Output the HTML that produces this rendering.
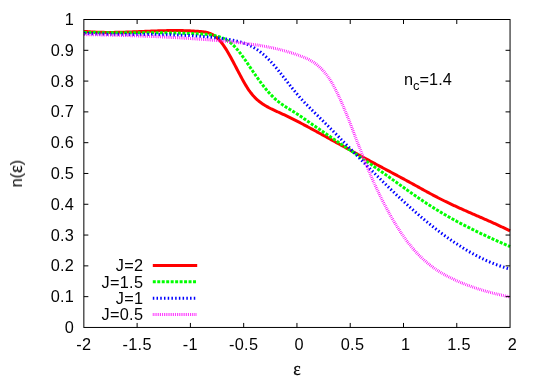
<!DOCTYPE html>
<html><head><meta charset="utf-8"><title>n(eps)</title>
<style>html,body{margin:0;padding:0;background:#fff;}svg{display:block;}text{font-family:"Liberation Sans",sans-serif;font-size:16.3px;fill:#000;letter-spacing:0.3px;}.sym{font-family:"Liberation Serif",serif;font-size:17.8px;letter-spacing:0;stroke:#000;stroke-width:0.3px;}</style></head><body>
<svg width="538" height="377" viewBox="0 0 538 377">
<rect x="0" y="0" width="538" height="377" fill="#fff"/>
<path d="M84.00,31.37 L85.00,31.46 L86.00,31.54 L87.00,31.62 L88.00,31.70 L89.00,31.77 L90.00,31.83 L91.00,31.90 L92.00,31.96 L93.00,32.01 L94.00,32.06 L95.00,32.11 L96.00,32.15 L97.00,32.19 L98.00,32.22 L99.00,32.26 L100.00,32.29 L101.00,32.31 L102.00,32.33 L103.00,32.35 L104.00,32.37 L105.00,32.38 L106.00,32.39 L107.00,32.40 L108.00,32.41 L109.00,32.41 L110.00,32.41 L111.00,32.40 L112.00,32.40 L113.00,32.39 L114.00,32.38 L115.00,32.37 L116.00,32.35 L117.00,32.34 L118.00,32.32 L119.00,32.30 L120.00,32.28 L121.00,32.25 L122.00,32.23 L123.00,32.20 L124.00,32.17 L125.00,32.14 L126.00,32.11 L127.00,32.08 L128.00,32.05 L129.00,32.01 L130.00,31.97 L131.00,31.94 L132.00,31.90 L133.00,31.86 L134.00,31.82 L135.00,31.78 L136.00,31.74 L137.00,31.70 L138.00,31.66 L139.00,31.62 L140.00,31.58 L141.00,31.53 L142.00,31.49 L143.00,31.45 L144.00,31.41 L145.00,31.36 L146.00,31.32 L147.00,31.28 L148.00,31.24 L149.00,31.20 L150.00,31.16 L151.00,31.12 L152.00,31.08 L153.00,31.04 L154.00,31.00 L155.00,30.97 L156.00,30.93 L157.00,30.89 L158.00,30.86 L159.00,30.83 L160.00,30.80 L161.00,30.77 L162.00,30.74 L163.00,30.71 L164.00,30.69 L165.00,30.67 L166.00,30.64 L167.00,30.62 L168.00,30.61 L169.00,30.59 L170.00,30.58 L171.00,30.56 L172.00,30.55 L173.00,30.55 L174.00,30.54 L175.00,30.54 L176.00,30.54 L177.00,30.54 L178.00,30.55 L179.00,30.56 L180.00,30.57 L181.00,30.58 L182.00,30.60 L183.00,30.62 L184.00,30.64 L185.00,30.67 L186.00,30.70 L187.00,30.73 L188.00,30.77 L189.00,30.81 L190.00,30.85 L191.00,30.90 L192.00,30.95 L193.00,31.01 L194.00,31.07 L195.00,31.13 L196.00,31.20 L197.00,31.27 L198.00,31.34 L199.00,31.42 L200.00,31.51 L201.00,31.60 L202.00,31.69 L203.00,31.81 L204.00,31.94 L205.00,32.10 L206.00,32.28 L207.00,32.51 L208.00,32.77 L209.00,33.07 L210.00,33.42 L211.00,33.83 L212.00,34.30 L213.00,34.83 L214.00,35.43 L215.00,36.11 L216.00,36.86 L217.00,37.70 L218.00,38.62 L219.00,39.65 L220.00,40.76 L221.00,41.97 L222.00,43.26 L223.00,44.63 L224.00,46.08 L225.00,47.59 L226.00,49.17 L227.00,50.81 L228.00,52.50 L229.00,54.24 L230.00,56.02 L231.00,57.84 L232.00,59.69 L233.00,61.56 L234.00,63.46 L235.00,65.36 L236.00,67.28 L237.00,69.20 L238.00,71.12 L239.00,73.03 L240.00,74.92 L241.00,76.79 L242.00,78.64 L243.00,80.46 L244.00,82.23 L245.00,83.96 L246.00,85.64 L247.00,87.26 L248.00,88.82 L249.00,90.30 L250.00,91.71 L251.00,93.04 L252.00,94.29 L253.00,95.47 L254.00,96.58 L255.00,97.62 L256.00,98.61 L257.00,99.53 L258.00,100.41 L259.00,101.23 L260.00,102.02 L261.00,102.76 L262.00,103.47 L263.00,104.15 L264.00,104.80 L265.00,105.42 L266.00,106.02 L267.00,106.60 L268.00,107.16 L269.00,107.70 L270.00,108.22 L271.00,108.73 L272.00,109.22 L273.00,109.70 L274.00,110.17 L275.00,110.64 L276.00,111.09 L277.00,111.55 L278.00,112.00 L279.00,112.45 L280.00,112.90 L281.00,113.35 L282.00,113.81 L283.00,114.27 L284.00,114.73 L285.00,115.20 L286.00,115.68 L287.00,116.16 L288.00,116.64 L289.00,117.13 L290.00,117.62 L291.00,118.11 L292.00,118.61 L293.00,119.11 L294.00,119.61 L295.00,120.12 L296.00,120.63 L297.00,121.15 L298.00,121.66 L299.00,122.18 L300.00,122.70 L301.00,123.23 L302.00,123.75 L303.00,124.28 L304.00,124.81 L305.00,125.35 L306.00,125.88 L307.00,126.42 L308.00,126.96 L309.00,127.50 L310.00,128.04 L311.00,128.58 L312.00,129.12 L313.00,129.67 L314.00,130.22 L315.00,130.76 L316.00,131.31 L317.00,131.86 L318.00,132.41 L319.00,132.96 L320.00,133.51 L321.00,134.06 L322.00,134.61 L323.00,135.16 L324.00,135.71 L325.00,136.26 L326.00,136.81 L327.00,137.36 L328.00,137.92 L329.00,138.47 L330.00,139.02 L331.00,139.57 L332.00,140.12 L333.00,140.67 L334.00,141.23 L335.00,141.78 L336.00,142.33 L337.00,142.88 L338.00,143.43 L339.00,143.99 L340.00,144.54 L341.00,145.09 L342.00,145.64 L343.00,146.19 L344.00,146.74 L345.00,147.30 L346.00,147.85 L347.00,148.40 L348.00,148.95 L349.00,149.50 L350.00,150.05 L351.00,150.60 L352.00,151.15 L353.00,151.70 L354.00,152.25 L355.00,152.80 L356.00,153.34 L357.00,153.89 L358.00,154.44 L359.00,154.99 L360.00,155.54 L361.00,156.08 L362.00,156.63 L363.00,157.17 L364.00,157.72 L365.00,158.26 L366.00,158.81 L367.00,159.35 L368.00,159.90 L369.00,160.44 L370.00,160.98 L371.00,161.52 L372.00,162.07 L373.00,162.61 L374.00,163.15 L375.00,163.69 L376.00,164.22 L377.00,164.76 L378.00,165.30 L379.00,165.84 L380.00,166.37 L381.00,166.91 L382.00,167.44 L383.00,167.98 L384.00,168.51 L385.00,169.04 L386.00,169.58 L387.00,170.11 L388.00,170.64 L389.00,171.17 L390.00,171.70 L391.00,172.24 L392.00,172.77 L393.00,173.30 L394.00,173.83 L395.00,174.37 L396.00,174.90 L397.00,175.43 L398.00,175.97 L399.00,176.50 L400.00,177.04 L401.00,177.58 L402.00,178.11 L403.00,178.65 L404.00,179.19 L405.00,179.73 L406.00,180.27 L407.00,180.82 L408.00,181.36 L409.00,181.91 L410.00,182.45 L411.00,183.00 L412.00,183.55 L413.00,184.10 L414.00,184.65 L415.00,185.21 L416.00,185.76 L417.00,186.31 L418.00,186.87 L419.00,187.42 L420.00,187.98 L421.00,188.53 L422.00,189.08 L423.00,189.63 L424.00,190.19 L425.00,190.74 L426.00,191.29 L427.00,191.83 L428.00,192.38 L429.00,192.92 L430.00,193.47 L431.00,194.01 L432.00,194.54 L433.00,195.08 L434.00,195.61 L435.00,196.14 L436.00,196.67 L437.00,197.19 L438.00,197.71 L439.00,198.22 L440.00,198.74 L441.00,199.24 L442.00,199.75 L443.00,200.25 L444.00,200.74 L445.00,201.24 L446.00,201.72 L447.00,202.21 L448.00,202.69 L449.00,203.17 L450.00,203.65 L451.00,204.12 L452.00,204.59 L453.00,205.06 L454.00,205.52 L455.00,205.98 L456.00,206.44 L457.00,206.90 L458.00,207.36 L459.00,207.81 L460.00,208.26 L461.00,208.71 L462.00,209.16 L463.00,209.61 L464.00,210.05 L465.00,210.50 L466.00,210.94 L467.00,211.38 L468.00,211.82 L469.00,212.26 L470.00,212.70 L471.00,213.14 L472.00,213.57 L473.00,214.01 L474.00,214.45 L475.00,214.88 L476.00,215.32 L477.00,215.76 L478.00,216.19 L479.00,216.63 L480.00,217.07 L481.00,217.50 L482.00,217.94 L483.00,218.38 L484.00,218.82 L485.00,219.26 L486.00,219.70 L487.00,220.15 L488.00,220.59 L489.00,221.04 L490.00,221.48 L491.00,221.93 L492.00,222.38 L493.00,222.83 L494.00,223.29 L495.00,223.74 L496.00,224.20 L497.00,224.66 L498.00,225.13 L499.00,225.59 L500.00,226.06 L501.00,226.53 L502.00,227.01 L503.00,227.48 L504.00,227.96 L505.00,228.45 L506.00,228.93 L507.00,229.42 L508.00,229.92 L509.00,230.41 L510.00,230.91" fill="none" stroke="#ff0000" stroke-width="3.0" stroke-linejoin="round"/>
<path d="M84.00,32.48 L85.00,32.50 L86.00,32.51 L87.00,32.52 L88.00,32.54 L89.00,32.55 L90.00,32.56 L91.00,32.57 L92.00,32.58 L93.00,32.59 L94.00,32.59 L95.00,32.60 L96.00,32.61 L97.00,32.61 L98.00,32.62 L99.00,32.63 L100.00,32.63 L101.00,32.63 L102.00,32.64 L103.00,32.64 L104.00,32.65 L105.00,32.65 L106.00,32.65 L107.00,32.65 L108.00,32.65 L109.00,32.66 L110.00,32.66 L111.00,32.66 L112.00,32.66 L113.00,32.66 L114.00,32.66 L115.00,32.66 L116.00,32.66 L117.00,32.66 L118.00,32.66 L119.00,32.66 L120.00,32.66 L121.00,32.66 L122.00,32.65 L123.00,32.65 L124.00,32.65 L125.00,32.65 L126.00,32.65 L127.00,32.65 L128.00,32.65 L129.00,32.65 L130.00,32.65 L131.00,32.65 L132.00,32.65 L133.00,32.65 L134.00,32.65 L135.00,32.65 L136.00,32.65 L137.00,32.65 L138.00,32.65 L139.00,32.65 L140.00,32.65 L141.00,32.65 L142.00,32.65 L143.00,32.66 L144.00,32.66 L145.00,32.66 L146.00,32.66 L147.00,32.67 L148.00,32.67 L149.00,32.68 L150.00,32.68 L151.00,32.69 L152.00,32.69 L153.00,32.70 L154.00,32.71 L155.00,32.71 L156.00,32.72 L157.00,32.73 L158.00,32.74 L159.00,32.75 L160.00,32.76 L161.00,32.77 L162.00,32.79 L163.00,32.80 L164.00,32.81 L165.00,32.83 L166.00,32.84 L167.00,32.86 L168.00,32.87 L169.00,32.89 L170.00,32.91 L171.00,32.93 L172.00,32.95 L173.00,32.97 L174.00,32.99 L175.00,33.02 L176.00,33.04 L177.00,33.06 L178.00,33.09 L179.00,33.12 L180.00,33.15 L181.00,33.17 L182.00,33.20 L183.00,33.24 L184.00,33.27 L185.00,33.30 L186.00,33.34 L187.00,33.37 L188.00,33.41 L189.00,33.45 L190.00,33.49 L191.00,33.53 L192.00,33.57 L193.00,33.61 L194.00,33.66 L195.00,33.70 L196.00,33.75 L197.00,33.80 L198.00,33.85 L199.00,33.90 L200.00,33.95 L201.00,34.01 L202.00,34.06 L203.00,34.13 L204.00,34.19 L205.00,34.26 L206.00,34.35 L207.00,34.44 L208.00,34.54 L209.00,34.65 L210.00,34.78 L211.00,34.92 L212.00,35.07 L213.00,35.25 L214.00,35.44 L215.00,35.65 L216.00,35.88 L217.00,36.13 L218.00,36.41 L219.00,36.72 L220.00,37.04 L221.00,37.40 L222.00,37.79 L223.00,38.20 L224.00,38.66 L225.00,39.15 L226.00,39.69 L227.00,40.27 L228.00,40.90 L229.00,41.59 L230.00,42.33 L231.00,43.13 L232.00,43.99 L233.00,44.92 L234.00,45.90 L235.00,46.95 L236.00,48.05 L237.00,49.19 L238.00,50.39 L239.00,51.63 L240.00,52.91 L241.00,54.22 L242.00,55.57 L243.00,56.94 L244.00,58.34 L245.00,59.76 L246.00,61.21 L247.00,62.66 L248.00,64.13 L249.00,65.61 L250.00,67.09 L251.00,68.57 L252.00,70.05 L253.00,71.52 L254.00,72.99 L255.00,74.44 L256.00,75.87 L257.00,77.30 L258.00,78.70 L259.00,80.09 L260.00,81.45 L261.00,82.80 L262.00,84.13 L263.00,85.43 L264.00,86.71 L265.00,87.96 L266.00,89.19 L267.00,90.38 L268.00,91.55 L269.00,92.69 L270.00,93.80 L271.00,94.87 L272.00,95.91 L273.00,96.92 L274.00,97.89 L275.00,98.82 L276.00,99.71 L277.00,100.56 L278.00,101.39 L279.00,102.18 L280.00,102.94 L281.00,103.68 L282.00,104.39 L283.00,105.08 L284.00,105.75 L285.00,106.41 L286.00,107.05 L287.00,107.68 L288.00,108.30 L289.00,108.92 L290.00,109.53 L291.00,110.14 L292.00,110.75 L293.00,111.37 L294.00,111.99 L295.00,112.62 L296.00,113.26 L297.00,113.91 L298.00,114.57 L299.00,115.23 L300.00,115.91 L301.00,116.59 L302.00,117.28 L303.00,117.97 L304.00,118.66 L305.00,119.35 L306.00,120.05 L307.00,120.75 L308.00,121.44 L309.00,122.14 L310.00,122.84 L311.00,123.53 L312.00,124.22 L313.00,124.91 L314.00,125.61 L315.00,126.30 L316.00,126.98 L317.00,127.67 L318.00,128.36 L319.00,129.05 L320.00,129.73 L321.00,130.42 L322.00,131.10 L323.00,131.79 L324.00,132.47 L325.00,133.15 L326.00,133.84 L327.00,134.52 L328.00,135.20 L329.00,135.88 L330.00,136.56 L331.00,137.23 L332.00,137.91 L333.00,138.59 L334.00,139.27 L335.00,139.94 L336.00,140.62 L337.00,141.30 L338.00,141.97 L339.00,142.65 L340.00,143.32 L341.00,144.00 L342.00,144.67 L343.00,145.35 L344.00,146.02 L345.00,146.70 L346.00,147.37 L347.00,148.05 L348.00,148.73 L349.00,149.40 L350.00,150.08 L351.00,150.75 L352.00,151.43 L353.00,152.11 L354.00,152.78 L355.00,153.46 L356.00,154.14 L357.00,154.82 L358.00,155.49 L359.00,156.17 L360.00,156.85 L361.00,157.53 L362.00,158.22 L363.00,158.90 L364.00,159.58 L365.00,160.27 L366.00,160.95 L367.00,161.64 L368.00,162.32 L369.00,163.01 L370.00,163.70 L371.00,164.39 L372.00,165.08 L373.00,165.77 L374.00,166.47 L375.00,167.16 L376.00,167.86 L377.00,168.55 L378.00,169.25 L379.00,169.95 L380.00,170.66 L381.00,171.36 L382.00,172.06 L383.00,172.77 L384.00,173.48 L385.00,174.19 L386.00,174.90 L387.00,175.61 L388.00,176.32 L389.00,177.04 L390.00,177.75 L391.00,178.47 L392.00,179.19 L393.00,179.90 L394.00,180.62 L395.00,181.34 L396.00,182.06 L397.00,182.78 L398.00,183.50 L399.00,184.21 L400.00,184.93 L401.00,185.65 L402.00,186.36 L403.00,187.08 L404.00,187.79 L405.00,188.51 L406.00,189.22 L407.00,189.93 L408.00,190.64 L409.00,191.35 L410.00,192.05 L411.00,192.76 L412.00,193.46 L413.00,194.16 L414.00,194.86 L415.00,195.55 L416.00,196.24 L417.00,196.93 L418.00,197.62 L419.00,198.30 L420.00,198.98 L421.00,199.66 L422.00,200.34 L423.00,201.01 L424.00,201.67 L425.00,202.34 L426.00,203.00 L427.00,203.65 L428.00,204.30 L429.00,204.95 L430.00,205.59 L431.00,206.23 L432.00,206.87 L433.00,207.50 L434.00,208.12 L435.00,208.74 L436.00,209.36 L437.00,209.97 L438.00,210.58 L439.00,211.19 L440.00,211.79 L441.00,212.39 L442.00,212.98 L443.00,213.57 L444.00,214.16 L445.00,214.74 L446.00,215.32 L447.00,215.89 L448.00,216.46 L449.00,217.03 L450.00,217.60 L451.00,218.16 L452.00,218.72 L453.00,219.27 L454.00,219.82 L455.00,220.37 L456.00,220.91 L457.00,221.45 L458.00,221.99 L459.00,222.52 L460.00,223.05 L461.00,223.58 L462.00,224.11 L463.00,224.63 L464.00,225.15 L465.00,225.66 L466.00,226.18 L467.00,226.69 L468.00,227.20 L469.00,227.70 L470.00,228.20 L471.00,228.70 L472.00,229.20 L473.00,229.69 L474.00,230.19 L475.00,230.68 L476.00,231.16 L477.00,231.65 L478.00,232.13 L479.00,232.61 L480.00,233.09 L481.00,233.56 L482.00,234.03 L483.00,234.50 L484.00,234.97 L485.00,235.44 L486.00,235.90 L487.00,236.37 L488.00,236.83 L489.00,237.29 L490.00,237.74 L491.00,238.20 L492.00,238.65 L493.00,239.10 L494.00,239.55 L495.00,240.00 L496.00,240.44 L497.00,240.89 L498.00,241.33 L499.00,241.77 L500.00,242.21 L501.00,242.65 L502.00,243.09 L503.00,243.52 L504.00,243.96 L505.00,244.39 L506.00,244.82 L507.00,245.25 L508.00,245.68 L509.00,246.11 L510.00,246.54" fill="none" stroke="#00ff00" stroke-width="3.0" stroke-linejoin="round" stroke-dasharray="2.980 1.490"/>
<path d="M84.00,33.39 L85.00,33.44 L86.00,33.49 L87.00,33.54 L88.00,33.58 L89.00,33.62 L90.00,33.66 L91.00,33.70 L92.00,33.74 L93.00,33.78 L94.00,33.81 L95.00,33.85 L96.00,33.88 L97.00,33.91 L98.00,33.94 L99.00,33.97 L100.00,34.00 L101.00,34.02 L102.00,34.05 L103.00,34.07 L104.00,34.09 L105.00,34.12 L106.00,34.14 L107.00,34.16 L108.00,34.17 L109.00,34.19 L110.00,34.21 L111.00,34.22 L112.00,34.24 L113.00,34.25 L114.00,34.27 L115.00,34.28 L116.00,34.29 L117.00,34.30 L118.00,34.31 L119.00,34.32 L120.00,34.33 L121.00,34.34 L122.00,34.35 L123.00,34.36 L124.00,34.37 L125.00,34.37 L126.00,34.38 L127.00,34.39 L128.00,34.39 L129.00,34.40 L130.00,34.40 L131.00,34.41 L132.00,34.41 L133.00,34.42 L134.00,34.42 L135.00,34.43 L136.00,34.43 L137.00,34.44 L138.00,34.44 L139.00,34.45 L140.00,34.45 L141.00,34.46 L142.00,34.47 L143.00,34.47 L144.00,34.48 L145.00,34.48 L146.00,34.49 L147.00,34.50 L148.00,34.50 L149.00,34.51 L150.00,34.52 L151.00,34.53 L152.00,34.54 L153.00,34.55 L154.00,34.56 L155.00,34.57 L156.00,34.58 L157.00,34.59 L158.00,34.61 L159.00,34.62 L160.00,34.64 L161.00,34.65 L162.00,34.67 L163.00,34.69 L164.00,34.70 L165.00,34.72 L166.00,34.74 L167.00,34.76 L168.00,34.79 L169.00,34.81 L170.00,34.84 L171.00,34.86 L172.00,34.89 L173.00,34.92 L174.00,34.95 L175.00,34.98 L176.00,35.01 L177.00,35.04 L178.00,35.08 L179.00,35.11 L180.00,35.15 L181.00,35.19 L182.00,35.23 L183.00,35.27 L184.00,35.32 L185.00,35.36 L186.00,35.41 L187.00,35.46 L188.00,35.51 L189.00,35.56 L190.00,35.62 L191.00,35.68 L192.00,35.73 L193.00,35.79 L194.00,35.86 L195.00,35.92 L196.00,35.99 L197.00,36.06 L198.00,36.13 L199.00,36.20 L200.00,36.27 L201.00,36.35 L202.00,36.43 L203.00,36.51 L204.00,36.59 L205.00,36.68 L206.00,36.77 L207.00,36.86 L208.00,36.95 L209.00,37.05 L210.00,37.15 L211.00,37.25 L212.00,37.35 L213.00,37.46 L214.00,37.57 L215.00,37.68 L216.00,37.79 L217.00,37.91 L218.00,38.03 L219.00,38.15 L220.00,38.27 L221.00,38.40 L222.00,38.53 L223.00,38.67 L224.00,38.80 L225.00,38.94 L226.00,39.09 L227.00,39.23 L228.00,39.39 L229.00,39.54 L230.00,39.71 L231.00,39.88 L232.00,40.06 L233.00,40.24 L234.00,40.44 L235.00,40.65 L236.00,40.87 L237.00,41.10 L238.00,41.35 L239.00,41.61 L240.00,41.88 L241.00,42.17 L242.00,42.47 L243.00,42.80 L244.00,43.14 L245.00,43.50 L246.00,43.88 L247.00,44.28 L248.00,44.70 L249.00,45.14 L250.00,45.61 L251.00,46.10 L252.00,46.62 L253.00,47.16 L254.00,47.73 L255.00,48.32 L256.00,48.95 L257.00,49.60 L258.00,50.28 L259.00,50.99 L260.00,51.74 L261.00,52.51 L262.00,53.32 L263.00,54.16 L264.00,55.02 L265.00,55.92 L266.00,56.85 L267.00,57.80 L268.00,58.78 L269.00,59.79 L270.00,60.83 L271.00,61.89 L272.00,62.98 L273.00,64.09 L274.00,65.23 L275.00,66.39 L276.00,67.57 L277.00,68.78 L278.00,70.00 L279.00,71.24 L280.00,72.49 L281.00,73.76 L282.00,75.04 L283.00,76.33 L284.00,77.62 L285.00,78.92 L286.00,80.21 L287.00,81.51 L288.00,82.81 L289.00,84.10 L290.00,85.39 L291.00,86.67 L292.00,87.93 L293.00,89.19 L294.00,90.43 L295.00,91.66 L296.00,92.86 L297.00,94.05 L298.00,95.22 L299.00,96.37 L300.00,97.50 L301.00,98.61 L302.00,99.71 L303.00,100.79 L304.00,101.86 L305.00,102.92 L306.00,103.97 L307.00,105.01 L308.00,106.03 L309.00,107.05 L310.00,108.06 L311.00,109.07 L312.00,110.06 L313.00,111.06 L314.00,112.05 L315.00,113.04 L316.00,114.03 L317.00,115.01 L318.00,116.00 L319.00,116.99 L320.00,117.98 L321.00,118.97 L322.00,119.97 L323.00,120.97 L324.00,121.97 L325.00,122.97 L326.00,123.97 L327.00,124.97 L328.00,125.98 L329.00,126.99 L330.00,128.00 L331.00,129.01 L332.00,130.02 L333.00,131.03 L334.00,132.05 L335.00,133.06 L336.00,134.08 L337.00,135.10 L338.00,136.12 L339.00,137.14 L340.00,138.16 L341.00,139.18 L342.00,140.20 L343.00,141.22 L344.00,142.24 L345.00,143.26 L346.00,144.29 L347.00,145.31 L348.00,146.33 L349.00,147.36 L350.00,148.38 L351.00,149.41 L352.00,150.43 L353.00,151.45 L354.00,152.48 L355.00,153.50 L356.00,154.52 L357.00,155.55 L358.00,156.57 L359.00,157.59 L360.00,158.61 L361.00,159.63 L362.00,160.65 L363.00,161.67 L364.00,162.68 L365.00,163.70 L366.00,164.72 L367.00,165.73 L368.00,166.74 L369.00,167.76 L370.00,168.77 L371.00,169.77 L372.00,170.78 L373.00,171.79 L374.00,172.79 L375.00,173.80 L376.00,174.80 L377.00,175.80 L378.00,176.79 L379.00,177.79 L380.00,178.78 L381.00,179.77 L382.00,180.76 L383.00,181.75 L384.00,182.73 L385.00,183.71 L386.00,184.69 L387.00,185.67 L388.00,186.65 L389.00,187.62 L390.00,188.59 L391.00,189.55 L392.00,190.52 L393.00,191.48 L394.00,192.43 L395.00,193.39 L396.00,194.34 L397.00,195.29 L398.00,196.23 L399.00,197.17 L400.00,198.11 L401.00,199.04 L402.00,199.98 L403.00,200.90 L404.00,201.83 L405.00,202.75 L406.00,203.66 L407.00,204.57 L408.00,205.48 L409.00,206.38 L410.00,207.28 L411.00,208.18 L412.00,209.07 L413.00,209.96 L414.00,210.84 L415.00,211.72 L416.00,212.59 L417.00,213.46 L418.00,214.33 L419.00,215.19 L420.00,216.04 L421.00,216.89 L422.00,217.74 L423.00,218.58 L424.00,219.42 L425.00,220.25 L426.00,221.08 L427.00,221.90 L428.00,222.72 L429.00,223.54 L430.00,224.34 L431.00,225.15 L432.00,225.94 L433.00,226.74 L434.00,227.52 L435.00,228.31 L436.00,229.08 L437.00,229.86 L438.00,230.62 L439.00,231.38 L440.00,232.14 L441.00,232.89 L442.00,233.64 L443.00,234.37 L444.00,235.11 L445.00,235.84 L446.00,236.56 L447.00,237.28 L448.00,237.99 L449.00,238.69 L450.00,239.39 L451.00,240.09 L452.00,240.77 L453.00,241.45 L454.00,242.13 L455.00,242.80 L456.00,243.46 L457.00,244.12 L458.00,244.77 L459.00,245.42 L460.00,246.05 L461.00,246.69 L462.00,247.31 L463.00,247.93 L464.00,248.55 L465.00,249.15 L466.00,249.75 L467.00,250.35 L468.00,250.93 L469.00,251.51 L470.00,252.09 L471.00,252.65 L472.00,253.21 L473.00,253.77 L474.00,254.31 L475.00,254.85 L476.00,255.39 L477.00,255.91 L478.00,256.43 L479.00,256.94 L480.00,257.44 L481.00,257.94 L482.00,258.43 L483.00,258.91 L484.00,259.39 L485.00,259.86 L486.00,260.32 L487.00,260.77 L488.00,261.22 L489.00,261.65 L490.00,262.09 L491.00,262.51 L492.00,262.92 L493.00,263.33 L494.00,263.73 L495.00,264.12 L496.00,264.51 L497.00,264.88 L498.00,265.25 L499.00,265.61 L500.00,265.97 L501.00,266.31 L502.00,266.65 L503.00,266.98 L504.00,267.30 L505.00,267.61 L506.00,267.91 L507.00,268.21 L508.00,268.49 L509.00,268.77 L510.00,269.04" fill="none" stroke="#0000ff" stroke-width="3.0" stroke-linejoin="round" stroke-dasharray="1.490 2.235"/>
<path d="M84.00,34.59 L85.00,34.60 L86.00,34.62 L87.00,34.64 L88.00,34.65 L89.00,34.67 L90.00,34.68 L91.00,34.70 L92.00,34.72 L93.00,34.74 L94.00,34.75 L95.00,34.77 L96.00,34.79 L97.00,34.81 L98.00,34.83 L99.00,34.85 L100.00,34.87 L101.00,34.89 L102.00,34.91 L103.00,34.93 L104.00,34.95 L105.00,34.97 L106.00,35.00 L107.00,35.02 L108.00,35.04 L109.00,35.06 L110.00,35.09 L111.00,35.11 L112.00,35.14 L113.00,35.16 L114.00,35.19 L115.00,35.21 L116.00,35.24 L117.00,35.26 L118.00,35.29 L119.00,35.32 L120.00,35.34 L121.00,35.37 L122.00,35.40 L123.00,35.43 L124.00,35.46 L125.00,35.49 L126.00,35.52 L127.00,35.55 L128.00,35.58 L129.00,35.61 L130.00,35.64 L131.00,35.67 L132.00,35.70 L133.00,35.74 L134.00,35.77 L135.00,35.80 L136.00,35.84 L137.00,35.87 L138.00,35.91 L139.00,35.94 L140.00,35.98 L141.00,36.02 L142.00,36.05 L143.00,36.09 L144.00,36.13 L145.00,36.17 L146.00,36.21 L147.00,36.25 L148.00,36.29 L149.00,36.33 L150.00,36.37 L151.00,36.41 L152.00,36.45 L153.00,36.50 L154.00,36.54 L155.00,36.58 L156.00,36.63 L157.00,36.67 L158.00,36.72 L159.00,36.76 L160.00,36.81 L161.00,36.86 L162.00,36.91 L163.00,36.96 L164.00,37.00 L165.00,37.05 L166.00,37.10 L167.00,37.15 L168.00,37.21 L169.00,37.26 L170.00,37.31 L171.00,37.36 L172.00,37.42 L173.00,37.47 L174.00,37.53 L175.00,37.58 L176.00,37.64 L177.00,37.70 L178.00,37.75 L179.00,37.81 L180.00,37.87 L181.00,37.93 L182.00,37.99 L183.00,38.05 L184.00,38.11 L185.00,38.17 L186.00,38.24 L187.00,38.30 L188.00,38.36 L189.00,38.43 L190.00,38.49 L191.00,38.56 L192.00,38.63 L193.00,38.69 L194.00,38.76 L195.00,38.83 L196.00,38.90 L197.00,38.97 L198.00,39.04 L199.00,39.11 L200.00,39.19 L201.00,39.26 L202.00,39.33 L203.00,39.41 L204.00,39.48 L205.00,39.56 L206.00,39.64 L207.00,39.71 L208.00,39.79 L209.00,39.87 L210.00,39.95 L211.00,40.03 L212.00,40.11 L213.00,40.19 L214.00,40.28 L215.00,40.36 L216.00,40.44 L217.00,40.53 L218.00,40.62 L219.00,40.70 L220.00,40.79 L221.00,40.88 L222.00,40.97 L223.00,41.06 L224.00,41.15 L225.00,41.24 L226.00,41.33 L227.00,41.43 L228.00,41.52 L229.00,41.62 L230.00,41.71 L231.00,41.81 L232.00,41.91 L233.00,42.01 L234.00,42.11 L235.00,42.21 L236.00,42.32 L237.00,42.43 L238.00,42.53 L239.00,42.64 L240.00,42.76 L241.00,42.87 L242.00,42.98 L243.00,43.10 L244.00,43.22 L245.00,43.35 L246.00,43.47 L247.00,43.60 L248.00,43.73 L249.00,43.86 L250.00,43.99 L251.00,44.13 L252.00,44.27 L253.00,44.42 L254.00,44.56 L255.00,44.71 L256.00,44.86 L257.00,45.02 L258.00,45.18 L259.00,45.34 L260.00,45.51 L261.00,45.67 L262.00,45.85 L263.00,46.02 L264.00,46.20 L265.00,46.39 L266.00,46.57 L267.00,46.77 L268.00,46.96 L269.00,47.16 L270.00,47.36 L271.00,47.57 L272.00,47.78 L273.00,48.00 L274.00,48.22 L275.00,48.45 L276.00,48.68 L277.00,48.91 L278.00,49.15 L279.00,49.40 L280.00,49.65 L281.00,49.90 L282.00,50.16 L283.00,50.42 L284.00,50.69 L285.00,50.97 L286.00,51.25 L287.00,51.54 L288.00,51.83 L289.00,52.12 L290.00,52.43 L291.00,52.74 L292.00,53.05 L293.00,53.37 L294.00,53.70 L295.00,54.03 L296.00,54.37 L297.00,54.71 L298.00,55.06 L299.00,55.42 L300.00,55.78 L301.00,56.15 L302.00,56.53 L303.00,56.93 L304.00,57.33 L305.00,57.75 L306.00,58.19 L307.00,58.65 L308.00,59.13 L309.00,59.63 L310.00,60.17 L311.00,60.73 L312.00,61.32 L313.00,61.95 L314.00,62.61 L315.00,63.31 L316.00,64.04 L317.00,64.83 L318.00,65.65 L319.00,66.52 L320.00,67.44 L321.00,68.41 L322.00,69.44 L323.00,70.52 L324.00,71.65 L325.00,72.85 L326.00,74.11 L327.00,75.43 L328.00,76.82 L329.00,78.28 L330.00,79.81 L331.00,81.41 L332.00,83.08 L333.00,84.83 L334.00,86.65 L335.00,88.54 L336.00,90.49 L337.00,92.51 L338.00,94.58 L339.00,96.71 L340.00,98.89 L341.00,101.12 L342.00,103.39 L343.00,105.71 L344.00,108.07 L345.00,110.47 L346.00,112.90 L347.00,115.37 L348.00,117.86 L349.00,120.38 L350.00,122.92 L351.00,125.48 L352.00,128.06 L353.00,130.65 L354.00,133.25 L355.00,135.86 L356.00,138.47 L357.00,141.09 L358.00,143.70 L359.00,146.31 L360.00,148.91 L361.00,151.49 L362.00,154.07 L363.00,156.62 L364.00,159.15 L365.00,161.66 L366.00,164.14 L367.00,166.59 L368.00,169.00 L369.00,171.38 L370.00,173.73 L371.00,176.05 L372.00,178.33 L373.00,180.58 L374.00,182.81 L375.00,185.00 L376.00,187.17 L377.00,189.30 L378.00,191.41 L379.00,193.49 L380.00,195.55 L381.00,197.58 L382.00,199.58 L383.00,201.56 L384.00,203.51 L385.00,205.44 L386.00,207.34 L387.00,209.21 L388.00,211.06 L389.00,212.89 L390.00,214.68 L391.00,216.45 L392.00,218.20 L393.00,219.92 L394.00,221.61 L395.00,223.27 L396.00,224.91 L397.00,226.53 L398.00,228.11 L399.00,229.67 L400.00,231.20 L401.00,232.71 L402.00,234.19 L403.00,235.64 L404.00,237.07 L405.00,238.46 L406.00,239.84 L407.00,241.18 L408.00,242.50 L409.00,243.79 L410.00,245.05 L411.00,246.28 L412.00,247.49 L413.00,248.67 L414.00,249.82 L415.00,250.95 L416.00,252.05 L417.00,253.13 L418.00,254.18 L419.00,255.20 L420.00,256.21 L421.00,257.19 L422.00,258.14 L423.00,259.08 L424.00,259.99 L425.00,260.88 L426.00,261.75 L427.00,262.60 L428.00,263.43 L429.00,264.24 L430.00,265.03 L431.00,265.80 L432.00,266.55 L433.00,267.29 L434.00,268.01 L435.00,268.71 L436.00,269.39 L437.00,270.06 L438.00,270.71 L439.00,271.35 L440.00,271.98 L441.00,272.59 L442.00,273.18 L443.00,273.77 L444.00,274.34 L445.00,274.90 L446.00,275.44 L447.00,275.98 L448.00,276.50 L449.00,277.02 L450.00,277.52 L451.00,278.02 L452.00,278.51 L453.00,278.99 L454.00,279.46 L455.00,279.92 L456.00,280.37 L457.00,280.82 L458.00,281.27 L459.00,281.70 L460.00,282.13 L461.00,282.55 L462.00,282.97 L463.00,283.38 L464.00,283.78 L465.00,284.18 L466.00,284.57 L467.00,284.95 L468.00,285.33 L469.00,285.70 L470.00,286.07 L471.00,286.43 L472.00,286.79 L473.00,287.14 L474.00,287.48 L475.00,287.82 L476.00,288.16 L477.00,288.49 L478.00,288.81 L479.00,289.13 L480.00,289.44 L481.00,289.75 L482.00,290.05 L483.00,290.35 L484.00,290.65 L485.00,290.94 L486.00,291.22 L487.00,291.50 L488.00,291.78 L489.00,292.05 L490.00,292.32 L491.00,292.59 L492.00,292.85 L493.00,293.10 L494.00,293.36 L495.00,293.61 L496.00,293.85 L497.00,294.09 L498.00,294.33 L499.00,294.57 L500.00,294.80 L501.00,295.03 L502.00,295.25 L503.00,295.48 L504.00,295.70 L505.00,295.91 L506.00,296.13 L507.00,296.34 L508.00,296.55 L509.00,296.76 L510.00,296.96" fill="none" stroke="#ff00ff" stroke-width="3.0" stroke-linejoin="round" stroke-dasharray="0.745 1.117"/>
<path d="M152.8,265.4 L197.2,265.4" fill="none" stroke="#ff0000" stroke-width="3.0"/>
<path d="M152.8,281.8 L197.2,281.8" fill="none" stroke="#00ff00" stroke-width="3.0" stroke-dasharray="2.980 1.490"/>
<path d="M152.8,298.2 L197.2,298.2" fill="none" stroke="#0000ff" stroke-width="3.0" stroke-dasharray="1.490 2.235"/>
<path d="M152.8,314.6 L197.2,314.6" fill="none" stroke="#ff00ff" stroke-width="3.0" stroke-dasharray="0.745 1.117"/>
<g stroke="#000" stroke-width="1" fill="none">
<rect x="83.85" y="19.5" width="426.20000000000005" height="307.95"/>
<path d="M83.85,296.65 h4.5 M510.05,296.65 h-4.5"/>
<path d="M83.85,265.86 h4.5 M510.05,265.86 h-4.5"/>
<path d="M83.85,235.06 h4.5 M510.05,235.06 h-4.5"/>
<path d="M83.85,204.27 h4.5 M510.05,204.27 h-4.5"/>
<path d="M83.85,173.47 h4.5 M510.05,173.47 h-4.5"/>
<path d="M83.85,142.68 h4.5 M510.05,142.68 h-4.5"/>
<path d="M83.85,111.89 h4.5 M510.05,111.89 h-4.5"/>
<path d="M83.85,81.09 h4.5 M510.05,81.09 h-4.5"/>
<path d="M83.85,50.30 h4.5 M510.05,50.30 h-4.5"/>
<path d="M137.12,327.45 v-4.5 M137.12,19.5 v4.5"/>
<path d="M190.40,327.45 v-4.5 M190.40,19.5 v4.5"/>
<path d="M243.68,327.45 v-4.5 M243.68,19.5 v4.5"/>
<path d="M296.95,327.45 v-4.5 M296.95,19.5 v4.5"/>
<path d="M350.23,327.45 v-4.5 M350.23,19.5 v4.5"/>
<path d="M403.50,327.45 v-4.5 M403.50,19.5 v4.5"/>
<path d="M456.78,327.45 v-4.5 M456.78,19.5 v4.5"/>
</g>
<g opacity="0.99">
<text x="143.3" y="271.2" text-anchor="end">J=2</text>
<text x="143.3" y="287.6" text-anchor="end">J=1.5</text>
<text x="143.3" y="304.0" text-anchor="end">J=1</text>
<text x="143.3" y="320.4" text-anchor="end">J=0.5</text>
<text x="74.2" y="333.05" text-anchor="end">0</text>
<text x="74.2" y="302.25" text-anchor="end">0.1</text>
<text x="74.2" y="271.46" text-anchor="end">0.2</text>
<text x="74.2" y="240.66" text-anchor="end">0.3</text>
<text x="74.2" y="209.87" text-anchor="end">0.4</text>
<text x="74.2" y="179.07" text-anchor="end">0.5</text>
<text x="74.2" y="148.28" text-anchor="end">0.6</text>
<text x="74.2" y="117.49" text-anchor="end">0.7</text>
<text x="74.2" y="86.69" text-anchor="end">0.8</text>
<text x="74.2" y="55.90" text-anchor="end">0.9</text>
<text x="74.2" y="25.10" text-anchor="end">1</text>
<text x="83.85" y="349.6" text-anchor="middle">-2</text>
<text x="137.12" y="349.6" text-anchor="middle">-1.5</text>
<text x="190.40" y="349.6" text-anchor="middle">-1</text>
<text x="243.68" y="349.6" text-anchor="middle">-0.5</text>
<text x="299.22" y="349.6" text-anchor="middle">0</text>
<text x="352.49" y="349.6" text-anchor="middle">0.5</text>
<text x="405.77" y="349.6" text-anchor="middle">1</text>
<text x="459.04" y="349.6" text-anchor="middle">1.5</text>
<text x="512.32" y="349.6" text-anchor="middle">2</text>
<text class="sym" x="297" y="374.7" text-anchor="middle">ε</text>
<text transform="translate(22,173.6) rotate(-90)" text-anchor="middle" style="letter-spacing:0.1px">n(<tspan class="sym">ε</tspan>)</text>
<text x="404" y="84.8" style="letter-spacing:0">n<tspan dy="5.4" font-size="13.0px">c</tspan><tspan dy="-5.4">=1.4</tspan></text>
</g>
</svg></body></html>
